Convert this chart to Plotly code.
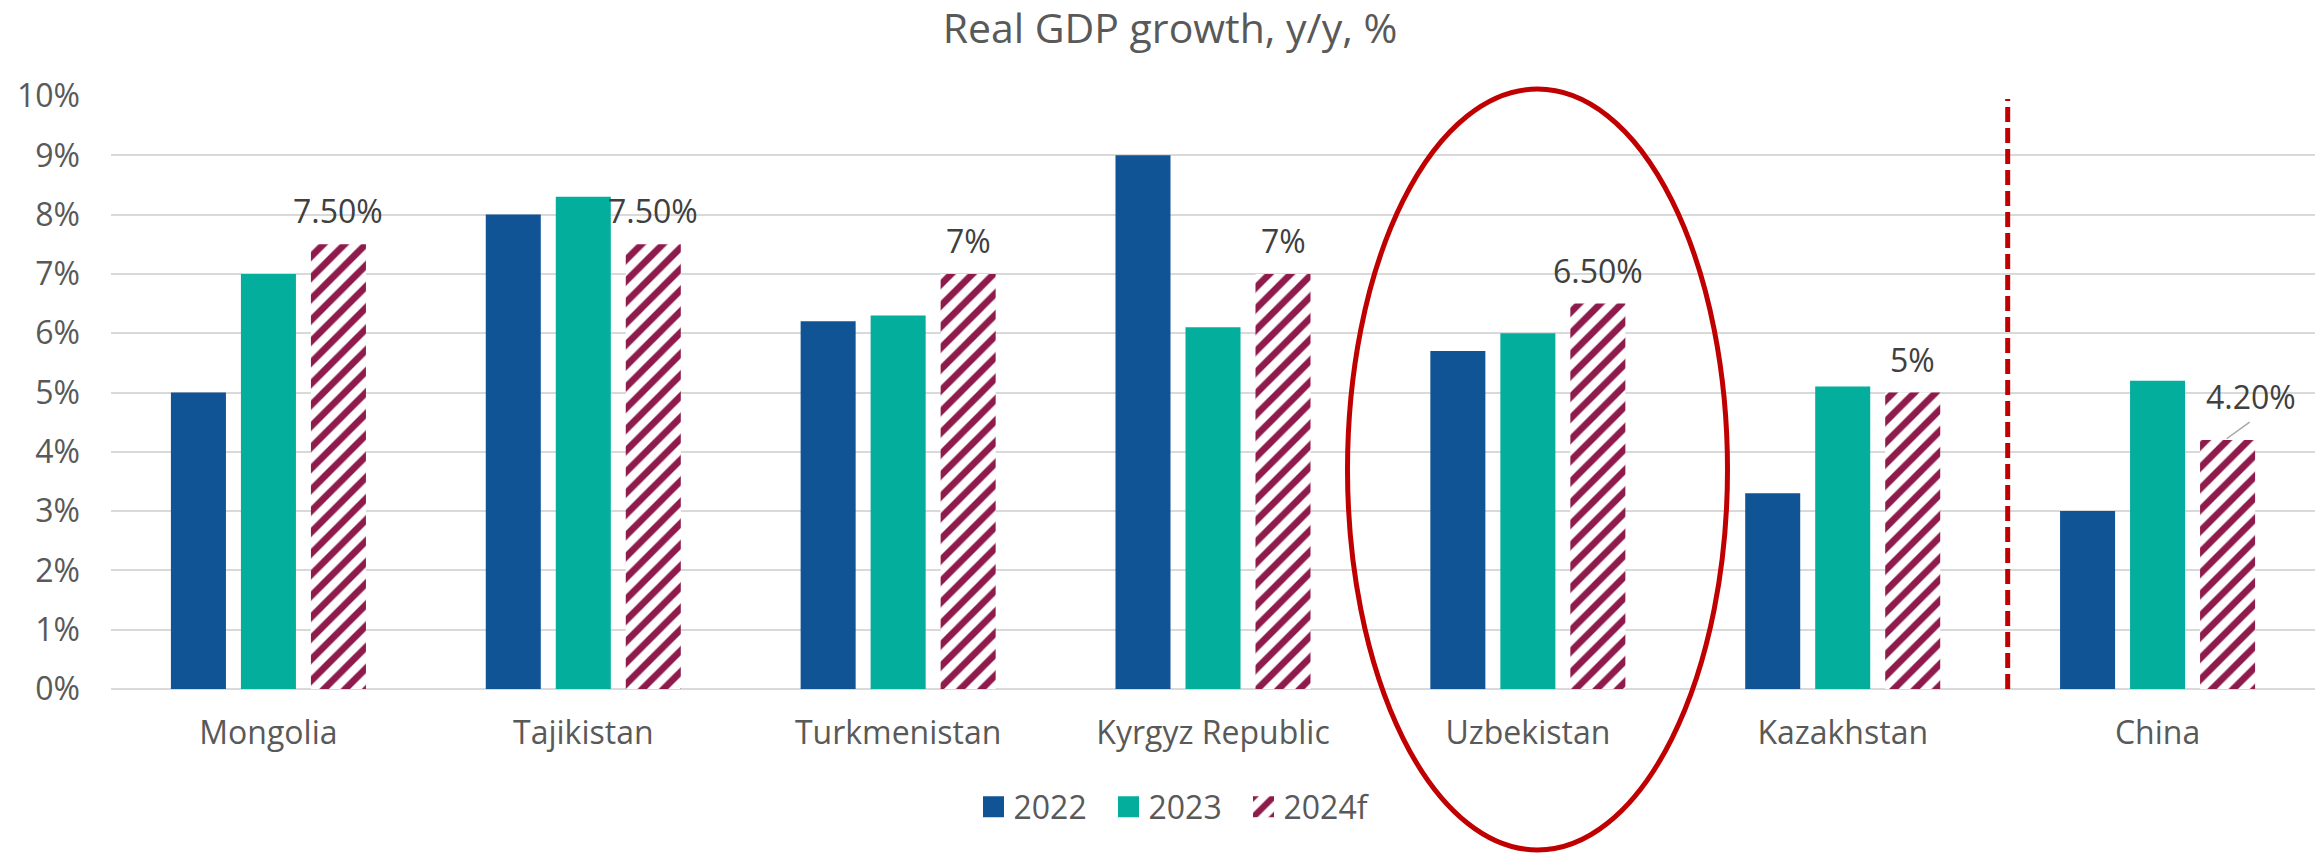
import plotly.graph_objects as go

categories = ["Mongolia", "Tajikistan", "Turkmenistan", "Kyrgyz Republic",
              "Uzbekistan", "Kazakhstan", "China"]
growth_2022 = [5.0, 8.0, 6.2, 9.0, 5.7, 3.3, 3.0]
growth_2023 = [7.0, 8.3, 6.3, 6.1, 6.0, 5.1, 5.2]
growth_2024f = [7.5, 7.5, 7.0, 7.0, 6.5, 5.0, 4.2]
labels_2024f = ["7.50%", "7.50%", "7%", "7%", "6.50%", "5%", "4.20%"]
y_ticks = list(range(0, 11))
y_ticktext = [f"{v}%" for v in y_ticks]

C2022 = "#105496"
C2023 = "#03AE9D"
C2024 = "#8E1B4B"
FONT = "Open Sans"

W, H = 2323, 854
ML, MR, MT, MB = 111, 8, 96, 165
BARGAP = 0.333
BARGROUPGAP = 0.214

fig = go.Figure()
fig.add_trace(go.Bar(name="2022", x=categories, y=growth_2022,
                     marker=dict(color=C2022, line=dict(width=0))))
fig.add_trace(go.Bar(name="2023", x=categories, y=growth_2023,
                     marker=dict(color=C2023, line=dict(width=0))))
fig.add_trace(go.Bar(name="2024f", x=categories, y=growth_2024f,
                     marker=dict(color="white", line=dict(width=0),
                                 pattern=dict(shape="/", fgcolor=C2024, bgcolor="white",
                                              fgopacity=1, size=15, solidity=0.45,
                                              fillmode="replace"))))

offset = (1 - BARGAP) / 3
annotations = []
for i, (v, t) in enumerate(zip(growth_2024f, labels_2024f)):
    if categories[i] == "China":
        annotations.append(dict(x=i + offset + 0.074, y=v + 0.74, xref="x", yref="y",
                                text=t, showarrow=False, xanchor="center", yanchor="middle",
                                font=dict(family=FONT, size=32, color="#404040")))
    else:
        annotations.append(dict(x=i + offset, y=v, xref="x", yref="y", text=t,
                                showarrow=False, xanchor="center", yanchor="bottom",
                                yshift=10,
                                font=dict(family=FONT, size=32, color="#404040")))

pw = W - ML - MR
ph = H - MT - MB
def px_x(p):
    return (p - ML) / pw
def px_y(p):
    return (H - MB - p) / ph

china_i = categories.index("China")
shapes = [
    # leader line for China label
    dict(type="line", xref="x", yref="y",
         x0=china_i + offset - 0.003, y0=growth_2024f[china_i] + 0.02,
         x1=china_i + offset + 0.07, y1=growth_2024f[china_i] + 0.30,
         line=dict(color="#A6A6A6", width=1.5)),
    # dashed separator
    dict(type="line", xref="x", yref="y", x0=5.524, x1=5.524, y0=0, y1=9.95,
         line=dict(color="#C00000", width=5, dash="15px,6px")),
    # ellipse highlight
    dict(type="circle", xref="paper", yref="paper",
         x0=px_x(1347.5), x1=px_x(1727.5), y0=px_y(850), y1=px_y(89),
         line=dict(color="#C00000", width=5), fillcolor="rgba(0,0,0,0)"),
]

fig.update_layout(
    width=W, height=H,
    margin=dict(l=ML, r=MR, t=MT, b=MB),
    paper_bgcolor="white", plot_bgcolor="white",
    barmode="group", bargap=BARGAP, bargroupgap=BARGROUPGAP,
    title=dict(text="Real GDP growth, y/y, %", x=1170 / W, xref="container", xanchor="center",
               y=1 - 29 / H, yref="container", yanchor="middle",
               font=dict(family=FONT, size=41, color="#595959")),
    font=dict(family=FONT, color="#595959"),
    xaxis=dict(range=[-0.5, 6.5], showgrid=False, showline=False, zeroline=False,
               ticks="", tickfont=dict(family=FONT, size=32, color="#595959"),
               ticklabelstandoff=22),
    yaxis=dict(range=[0, 10], tickvals=y_ticks, ticktext=y_ticktext,
               showgrid=True, gridcolor="#D9D9D9", gridwidth=2,
               zeroline=True, zerolinecolor="#D9D9D9", zerolinewidth=2,
               showline=False, ticks="",
               tickfont=dict(family=FONT, size=32, color="#595959"),
               ticklabelstandoff=30),
    legend=dict(orientation="h", x=px_x(1176), xanchor="center", y=px_y(807), yanchor="middle",
                font=dict(family=FONT, size=32, color="#595959"),
                entrywidth=90, entrywidthmode="pixels",
                bgcolor="rgba(0,0,0,0)", traceorder="normal"),
    annotations=annotations,
    shapes=shapes,
)

# enlarge the legend swatches (keeping their own placement) to match the reference's square keys
post = ("document.querySelectorAll('.legendpoints path').forEach(function(p){"
        "var t=p.getAttribute('transform')||'';"
        "p.setAttribute('transform',t+' scale(1.75)');});")
fig.write_html("out.html", post_script=post)
